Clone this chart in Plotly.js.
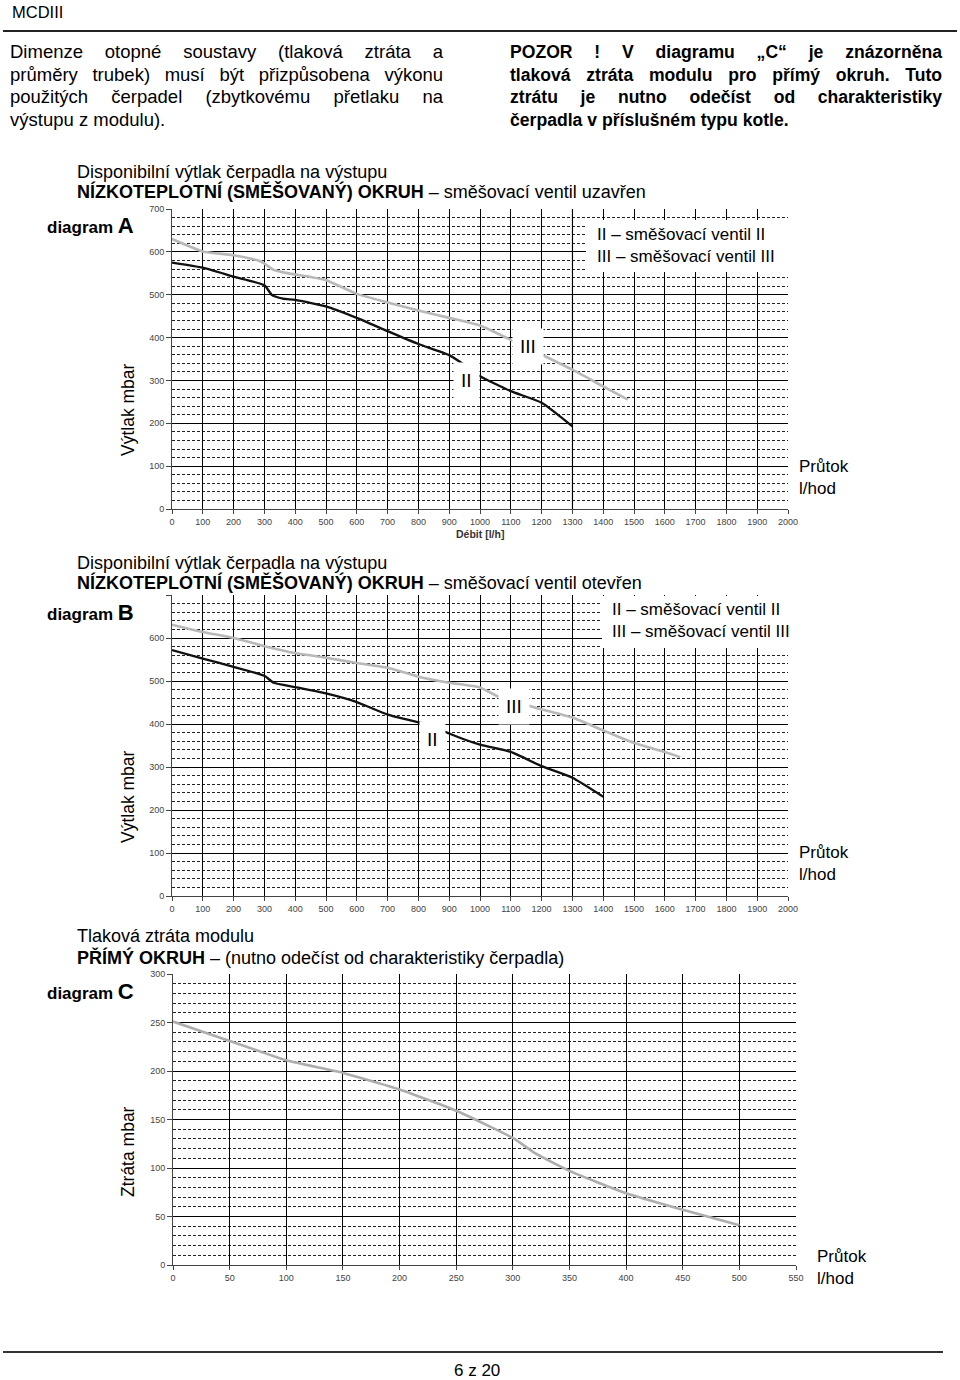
<!DOCTYPE html>
<html>
<head>
<meta charset="utf-8">
<script src="https://cdn.plot.ly/plotly-3.0.1.min.js"></script>
<style>
  body { margin: 0; background: #fff; }
  #page { position: relative; width: 960px; height: 1380px; overflow: hidden; }
  #chart { position: absolute; left: 0; top: 0; width: 960px; height: 1380px; }
  .col { position: absolute; top: 41px; font-family: "Liberation Sans", Arial, sans-serif; font-size: 18.5px; line-height: 22.7px; color: #000; }
  .col div { text-align: justify; text-align-last: justify; }
  .col div.last { text-align-last: left; }
  #left { left: 10px; width: 433px; }
  #right { left: 510px; width: 432px; font-weight: bold; font-size: 17.6px; }
</style>
</head>
<body>
<div id="page">
  <div id="chart"></div>
  <div class="col" id="left">
    <div>Dimenze otopné soustavy (tlaková ztráta a</div>
    <div>průměry trubek) musí být přizpůsobena výkonu</div>
    <div>použitých čerpadel (zbytkovému přetlaku na</div>
    <div class="last">výstupu z modulu).</div>
  </div>
  <div class="col" id="right">
    <div>POZOR ! V diagramu „C“ je znázorněna</div>
    <div>tlaková ztráta modulu pro přímý okruh. Tuto</div>
    <div>ztrátu je nutno odečíst od charakteristiky</div>
    <div class="last">čerpadla v příslušném typu kotle.</div>
  </div>
</div>
<script>
// diagram A - smesovaci ventil uzavren
const flowA2 = [0, 100, 200, 300, 325, 360, 400, 500, 600, 700, 800, 900, 950, 1000, 1100, 1200, 1300];
const vytlakA2 = [575, 563, 542, 522, 499, 491, 488, 473, 446, 415, 385, 359, 336, 310, 275, 248, 193];
const flowA3 = [0, 100, 200, 290, 330, 370, 500, 600, 700, 800, 900, 1000, 1090, 1200, 1300, 1400, 1480];
const vytlakA3 = [630, 601, 592, 577, 558, 551, 534, 502, 482, 463, 446, 428, 398, 360, 325, 286, 255];

// diagram B - smesovaci ventil otevren
const flowB2 = [0, 100, 200, 300, 330, 400, 500, 600, 700, 800, 850, 900, 1000, 1100, 1200, 1300, 1400];
const vytlakB2 = [572, 552, 533, 512, 496, 486, 471, 451, 422, 404, 395, 378, 352, 335, 302, 275, 231];
const flowB3 = [0, 100, 200, 300, 400, 500, 600, 700, 800, 900, 1000, 1050, 1180, 1300, 1400, 1500, 1600, 1650];
const vytlakB3 = [631, 614, 600, 581, 565, 554, 542, 531, 510, 496, 485, 467, 438, 415, 385, 356, 335, 323];

// diagram C - primy okruh
const flowC = [0, 50, 100, 150, 200, 250, 300, 320, 350, 400, 450, 500];
const ztrataC = [251, 231, 211, 198, 181, 159, 131, 115, 97, 74, 57, 41];

const ticksAB = [0, 100, 200, 300, 400, 500, 600, 700, 800, 900, 1000, 1100, 1200, 1300, 1400, 1500, 1600, 1700, 1800, 1900, 2000];
const ticksC = [0, 50, 100, 150, 200, 250, 300, 350, 400, 450, 500, 550];
const yTicksAB = [0, 100, 200, 300, 400, 500, 600, 700];
const yLabelsA = ['0', '100', '200', '300', '400', '500', '600', '700'];
const yLabelsB = ['0', '100', '200', '300', '400', '500', '600', ''];
const yTicksC = [0, 50, 100, 150, 200, 250, 300];

const W = 960, H = 1380;
const px = x => x / W;
const py = y => 1 - y / H;

const NARROW = '"Liberation Sans Narrow", "Arial Narrow", "Liberation Sans", Arial, sans-serif';
const ARIAL = '"Liberation Sans", Arial, sans-serif';

function xAxis(x0, x1, anchor, ticks) {
    return {
        domain: [px(x0), px(x1)], anchor: anchor,
        range: [0, ticks[ticks.length - 1]], tickvals: ticks,
        showgrid: true, gridcolor: '#000', gridwidth: 1,
        zeroline: false, showline: true, linecolor: '#444', linewidth: 1,
        ticks: 'outside', ticklen: 4, tickcolor: '#444',
        tickfont: { family: NARROW, size: 9, color: '#444' },
        fixedrange: true
    };
}

function yAxis(y0, y1, anchor, ticks, labels, minor) {
    return {
        domain: [py(y1), py(y0)], anchor: anchor,
        range: [0, ticks[ticks.length - 1]], tickvals: ticks, ticktext: labels,
        showgrid: true, gridcolor: '#000', gridwidth: 1,
        minor: { dtick: minor, tick0: 0, showgrid: true, gridcolor: '#222', gridwidth: 1, griddash: '3px,2px', ticks: '' },
        zeroline: false, showline: true, linecolor: '#444', linewidth: 1,
        ticks: 'outside', ticklen: 5, tickcolor: '#444',
        tickfont: { family: NARROW, size: 9, color: '#444' },
        fixedrange: true
    };
}

const black = { color: '#111', width: 2.3, shape: 'spline', smoothing: 0.5 };
const gray = { color: '#b8b8b8', width: 2.6, shape: 'spline', smoothing: 0.5 };

const data = [
    { x: flowA2, y: vytlakA2, xaxis: 'x', yaxis: 'y', mode: 'lines', line: black, name: 'II' },
    { x: flowA3, y: vytlakA3, xaxis: 'x', yaxis: 'y', mode: 'lines', line: gray, name: 'III' },
    { x: flowB2, y: vytlakB2, xaxis: 'x2', yaxis: 'y2', mode: 'lines', line: black, name: 'II' },
    { x: flowB3, y: vytlakB3, xaxis: 'x2', yaxis: 'y2', mode: 'lines', line: gray, name: 'III' },
    { x: flowC, y: ztrataC, xaxis: 'x3', yaxis: 'y3', mode: 'lines', line: Object.assign({}, gray, { color: '#adadad' }), name: 'C' }
];

function txt(x, y, text, size, opts) {
    return Object.assign({
        xref: 'paper', yref: 'paper', x: px(x), y: py(y), text: text,
        showarrow: false, xanchor: 'left', yanchor: 'middle', align: 'left',
        font: { family: NARROW, size: size, color: '#000' }
    }, opts || {});
}

function curveLabel(xr, yr, x, y, text) {
    return {
        xref: xr, yref: yr, x: x, y: y, text: text, showarrow: false,
        bgcolor: '#fff', borderpad: 7,
        font: { family: ARIAL, size: 19, color: '#000' }
    };
}

const annotations = [
    txt(10, 12, 'MCDIII', 16.5, { font: { family: ARIAL, size: 16.5, color: '#000' } }),

    // A
    txt(75, 172, 'Disponibilní výtlak čerpadla na výstupu', 18),
    txt(75, 191, '<b>NÍZKOTEPLOTNÍ (SMĚŠOVANÝ) OKRUH</b> – směšovací ventil uzavřen', 18),
    txt(45, 225, '<b>diagram <span style="font-size:22px">A</span></b>', 17),
    txt(128, 410, 'Výtlak mbar', 17.5, { xanchor: 'center', textangle: -90, font: { family: ARIAL, size: 17.5, color: '#000' } }),
    txt(595, 245, 'II – směšovací ventil II<br>III – směšovací ventil III', 17),
    txt(797, 477, 'Průtok<br>l/hod', 17),
    txt(480, 534, '<b>Débit [l/h]</b>', 10.5, { xanchor: 'center', font: { family: ARIAL, size: 10.5, color: '#333' } }),
    curveLabel('x', 'y', 955, 300, 'II'),
    curveLabel('x', 'y', 1155, 380, 'III'),

    // B
    txt(75, 563, 'Disponibilní výtlak čerpadla na výstupu', 18),
    txt(75, 582, '<b>NÍZKOTEPLOTNÍ (SMĚŠOVANÝ) OKRUH</b> – směšovací ventil otevřen', 18),
    txt(45, 612, '<b>diagram <span style="font-size:22px">B</span></b>', 17),
    txt(128, 797, 'Výtlak mbar', 17.5, { xanchor: 'center', textangle: -90, font: { family: ARIAL, size: 17.5, color: '#000' } }),
    txt(610, 620, 'II – směšovací ventil II<br>III – směšovací ventil III', 17),
    txt(797, 863, 'Průtok<br>l/hod', 17),
    curveLabel('x2', 'y2', 847, 363, 'II'),
    curveLabel('x2', 'y2', 1110, 440, 'III'),

    // C
    txt(75, 936, 'Tlaková ztráta modulu', 18),
    txt(75, 957, '<b>PŘÍMÝ OKRUH</b> – (nutno odečíst od charakteristiky čerpadla)', 18),
    txt(45, 991, '<b>diagram <span style="font-size:22px">C</span></b>', 17),
    txt(128, 1152, 'Ztráta mbar', 17.5, { xanchor: 'center', textangle: -90, font: { family: ARIAL, size: 17.5, color: '#000' } }),
    txt(815, 1267, 'Průtok<br>l/hod', 17),

    txt(477, 1370, '6 z 20', 17, { xanchor: 'center', font: { family: ARIAL, size: 17, color: '#000' } })
];

const shapes = [
    { type: 'line', xref: 'paper', yref: 'paper', x0: px(3), x1: px(957), y0: py(31), y1: py(31), line: { color: '#222', width: 2 } },
    { type: 'line', xref: 'paper', yref: 'paper', x0: px(3), x1: px(943), y0: py(1352), y1: py(1352), line: { color: '#333', width: 2 } },
    // gray vertical line in diagram A
    { type: 'line', xref: 'x', yref: 'y', x0: 1300, x1: 1300, y0: 0, y1: 700, line: { color: '#aaa', width: 1.5 }, layer: 'below' },
    // white boxes behind the legends
    { type: 'rect', xref: 'paper', yref: 'paper', x0: px(586), x1: px(795), y0: py(272), y1: py(220), fillcolor: '#fff', line: { width: 0 }, layer: 'above' },
    { type: 'rect', xref: 'paper', yref: 'paper', x0: px(602), x1: px(800), y0: py(648), y1: py(596), fillcolor: '#fff', line: { width: 0 }, layer: 'above' }
];

const layout = {
    width: W, height: H,
    margin: { l: 0, r: 0, t: 0, b: 0 },
    paper_bgcolor: '#fff', plot_bgcolor: '#fff',
    showlegend: false,
    xaxis: xAxis(172, 788, 'y', ticksAB),
    yaxis: yAxis(209, 509, 'x', yTicksAB, yLabelsA, 20),
    xaxis2: xAxis(172, 788, 'y2', ticksAB),
    yaxis2: yAxis(595, 896, 'x2', yTicksAB, yLabelsB, 20),
    xaxis3: xAxis(173, 796, 'y3', ticksC),
    yaxis3: yAxis(974, 1265, 'x3', yTicksC, yTicksC.map(String), 10),
    annotations: annotations,
    shapes: shapes
};

Plotly.newPlot('chart', data, layout, { displayModeBar: false, staticPlot: true });
</script>
</body>
</html>
